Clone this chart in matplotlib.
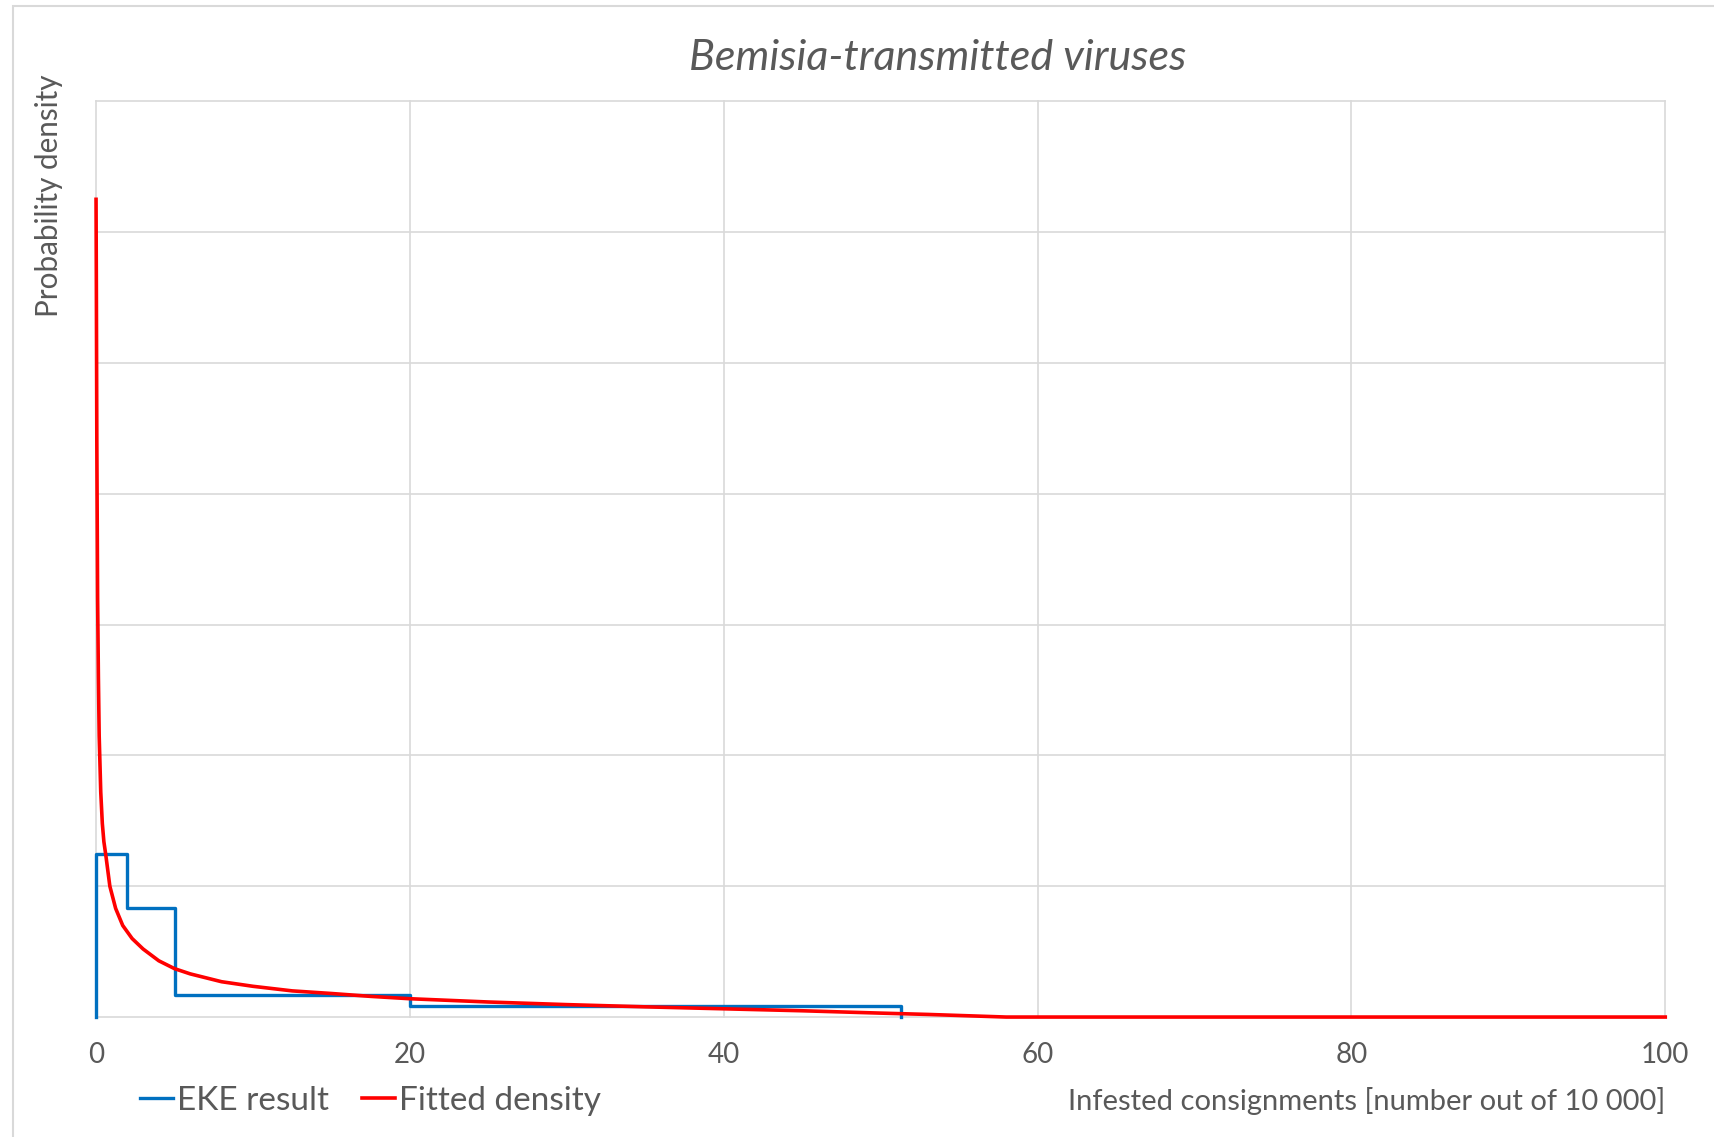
import numpy as np
import matplotlib
matplotlib.use("Agg")
import matplotlib.pyplot as plt
from matplotlib.patches import Rectangle

# EKE quartile bins and their densities
bin_edges = [0, 2, 5, 20, 51.3]
bin_density = [0.125, 0.0833, 0.0167, 0.0081]

# fitted density
fit_x = [0.0, 0.02, 0.05, 0.1, 0.15, 0.2, 0.3, 0.4, 0.5, 0.62, 0.88, 1.25, 1.7, 2.3,
         3, 4, 5, 6, 8, 10, 12.5, 15, 17.5, 20, 25, 30, 35, 40, 45, 50, 53, 55, 57, 58, 100]
fit_y = [0.625, 0.56, 0.44, 0.32, 0.26, 0.215, 0.172, 0.148, 0.134, 0.124, 0.1, 0.083, 0.07, 0.06,
         0.052, 0.043, 0.037, 0.033, 0.027, 0.0235, 0.02, 0.018, 0.0158, 0.014, 0.0115, 0.0095,
         0.0078, 0.0063, 0.0048, 0.003, 0.002, 0.0012, 0.0004, 0.0, 0.0]

x_ticks = [0, 20, 40, 60, 80, 100]

grey = "#595959"
plt.rcParams['font.family'] = ['Lato', 'DejaVu Sans']

fig = plt.figure(figsize=(17.15, 11.37), dpi=100)
ax = fig.add_axes([0.056, 0.1055, 0.915, 0.8055])

# step outline of the EKE result
xs = [bin_edges[0]]
ys = [0]
for i, d in enumerate(bin_density):
    xs += [bin_edges[i], bin_edges[i + 1]]
    ys += [d, d]
xs.append(bin_edges[-1])
ys.append(0)

ax.plot(xs, ys, color="#0070C0", lw=2.4, label="EKE result", clip_on=False, zorder=3)
ax.plot(fit_x, fit_y, color="#FF0000", lw=2.6, label="Fitted density", clip_on=False, zorder=4)

ax.set_xlim(0, 100)
ax.set_ylim(0, 0.7)
ax.set_xticks(x_ticks)
ax.set_yticks(np.arange(0, 0.71, 0.1))
ax.set_yticklabels([])
ax.tick_params(axis='both', length=0)
ax.tick_params(axis='x', labelsize=20, labelcolor=grey, pad=18)
ax.grid(True, color="#d9d9d9", lw=1.2)
ax.set_axisbelow(True)
for s in ax.spines.values():
    s.set_visible(False)
for gl in ax.get_xgridlines() + ax.get_ygridlines():
    gl.set_clip_on(False)

fig.text(0.547, 0.949, "Bemisia-transmitted viruses", ha='center', va='center',
         fontsize=31, style='italic', color=grey)
fig.text(0.0287, 0.828, "Probability density", rotation=90, ha='center', va='center',
         fontsize=21.3, color=grey)
fig.text(0.971, 0.0315, "Infested consignments [number out of 10 000]", ha='right', va='center',
         fontsize=21, color=grey)

leg = fig.legend(loc='center left', bbox_to_anchor=(0.0816, 0.032), ncol=2, frameon=False,
                 borderpad=0, borderaxespad=0,
                 handlelength=1.0, handletextpad=0.1, columnspacing=1.0, fontsize=24)
for t in leg.get_texts():
    t.set_color(grey)

fig.patches.append(Rectangle((0.0075, -0.01), 1.0, 1.005, transform=fig.transFigure,
                             fill=False, edgecolor="#d9d9d9", lw=1.5))

fig.savefig("out.png", dpi=100)
